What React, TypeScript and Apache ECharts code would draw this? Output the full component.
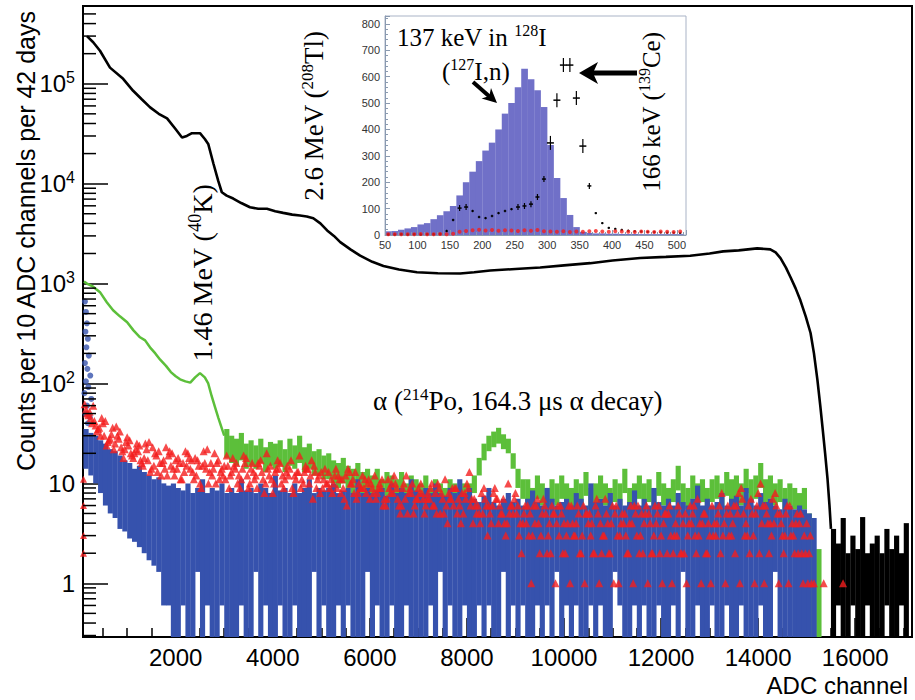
import React, { useEffect, useRef } from 'react';
import * as echarts from 'echarts';

const SANS = '"Liberation Sans", Arial, Helvetica, sans-serif';
const SERIF = '"Liberation Serif", "Times New Roman", Times, serif';

const X_MIN = 90;
const X_MAX = 17170;
const Y_MIN = 0.29;
const Y_MAX = 6e5;

// ---- main spectrum (black), read as [ADC channel, counts]
const blackLine: [number, number][] = [
  [172, 3.0e5], [300, 2.6e5], [440, 2.14e5], [646, 1.45e5], [917, 1.12e5], [1123, 8.5e4], [1300, 7.0e4],
  [1473, 5.8e4], [1650, 5.0e4], [1822, 4.5e4], [2000, 3.5e4], [2130, 2.9e4], [2230, 3.0e4], [2335, 3.2e4],
  [2500, 3.2e4], [2600, 2.8e4], [2670, 2.5e4], [2775, 1.6e4], [2875, 1.07e4], [2950, 8.2e3], [3050, 7.6e3],
  [3185, 7.1e3], [3350, 6.4e3], [3530, 5.8e3], [3700, 5.6e3], [3880, 5.6e3], [4050, 5.3e3], [4215, 5.1e3],
  [4400, 4.9e3], [4560, 4.8e3], [4700, 4.7e3], [4835, 4.5e3], [4980, 4.0e3], [5120, 3.4e3], [5260, 3.0e3],
  [5390, 2.6e3], [5600, 2.2e3], [5800, 1.9e3], [6050, 1.65e3], [6280, 1.5e3], [6600, 1.38e3], [6970, 1.3e3],
  [7400, 1.27e3], [7860, 1.26e3], [8150, 1.3e3], [8480, 1.35e3], [9000, 1.4e3], [9510, 1.45e3], [10000, 1.52e3],
  [10540, 1.6e3], [11000, 1.7e3], [11570, 1.8e3], [12100, 1.85e3], [12600, 1.9e3], [13000, 2.0e3], [13280, 2.1e3],
  [13600, 2.15e3], [13980, 2.25e3], [14250, 2.2e3], [14360, 2.05e3], [14460, 1.8e3], [14570, 1.45e3], [14670, 1.15e3],
  [14770, 900], [14870, 680], [14980, 470], [15080, 320], [15150, 200], [15220, 110], [15280, 60], [15330, 35],
  [15380, 20], [15430, 11], [15470, 6], [15500, 3.5],
];
// black tail, bins of 100 channels starting at 15500 (low/high ends of the error bars)
const blackTailHigh = [3.5, 2.5, 4.5, 2, 3, 2.2, 4.6, 2, 2.5, 3, 2, 3.5, 2.2, 3, 2, 4];
const blackTailLow = [0.29, 0.6, 0.29, 0.29, 0.6, 0.29, 0.29, 0.6, 0.29, 0.29, 0.29, 0.6, 0.29, 0.29, 0.6, 0.29];

// ---- green spectrum: smooth part, then bins of 100 channels from 3000
const greenLine: [number, number][] = [
  [110, 1050], [172, 1000], [300, 930], [440, 820], [580, 650], [710, 540], [850, 470], [1000, 410], [1130, 340],
  [1265, 290], [1370, 270], [1470, 230], [1580, 200], [1680, 173], [1800, 150], [1900, 130], [2000, 118],
  [2090, 110], [2200, 105], [2300, 102], [2400, 115], [2500, 127], [2600, 115], [2670, 100], [2740, 75],
  [2810, 58], [2880, 45], [2955, 35], [3000, 30],
];
const greenHigh = [
  35, 30, 28, 32, 25, 27, 24, 28, 23, 26,
  25, 27, 22, 28, 24, 30, 23, 25, 21, 22,
  19, 20, 17, 16, 18, 15, 14, 16, 13, 14,
  12, 14, 11, 13, 12, 11, 13, 10, 12, 11,
  10, 12, 9, 11, 10, 9, 11, 10, 9, 10,
  10, 12, 18, 25, 30, 33, 36, 31, 28, 20,
  14, 11, 11, 9, 12, 10, 9, 11, 10, 12,
  10, 9, 11, 10, 13, 9, 10, 12, 10, 9,
  11, 10, 14, 9, 10, 12, 10, 11, 9, 13,
  10, 9, 11, 15, 10, 9, 12, 10, 11, 9,
  11, 12, 10, 13, 11, 12, 10, 14, 11, 12,
  16, 11, 12, 10, 11, 9, 10, 9, 8, 9,
  5, 2.2, 2.2,
];
const greenLow = [
  18, 16, 15, 17, 14, 15, 14, 16, 13, 15,
  14, 15, 13, 15, 14, 16, 13, 14, 12, 12,
  11, 11, 10, 9, 10, 9, 8, 9, 8, 8,
  7, 8, 6.5, 7.5, 7, 6.5, 7.5, 6, 7, 6.5,
  6, 7, 5.5, 6.5, 6, 5.5, 6.5, 6, 5.5, 6,
  6, 8, 12, 17, 21, 23, 25, 22, 20, 14,
  9, 7, 6.5, 5.5, 7, 6, 5.5, 6.5, 6, 7,
  6, 5.5, 6.5, 6, 7.5, 5.5, 6, 7, 6, 5.5,
  6.5, 6, 8, 5.5, 6, 7, 6, 6.5, 5.5, 7.5,
  6, 5.5, 6.5, 8.5, 6, 5.5, 7, 6, 6.5, 5.5,
  6.5, 7, 6, 7.5, 6.5, 7, 6, 8, 6.5, 7,
  9, 6.5, 7, 6, 6.5, 5.5, 6, 5.5, 5, 5.5,
  0.29, 0.29, 0.29,
];

// ---- blue spectrum: bins of 100 channels from 100
const blueHigh = [
  35, 32, 30, 27, 25, 22, 21, 19, 17, 16,
  14, 15, 13, 12, 11, 11.5, 10, 9.5, 10, 9,
  8.5, 10, 8, 9, 11, 8, 9, 8.5, 10, 8,
  9, 8, 11, 8.5, 9, 8, 10, 9, 8, 12,
  8.5, 9, 8, 10, 8, 9, 11, 8, 9, 8.5,
  9, 10, 8, 8.5, 9, 8, 11, 8, 9, 8,
  8.5, 9, 7.5, 10, 8, 9, 8, 11, 8.5, 8,
  9, 8, 10, 8, 7.5, 9, 8, 11, 8, 9,
  7, 6.5, 7.5, 9, 6.5, 6, 7, 8, 6.5, 7,
  6, 7, 8.5, 6.5, 6, 9, 7, 6, 6.5, 7,
  6, 8, 7, 6, 10, 6.5, 7, 6, 8, 6,
  7, 6, 6.5, 8.5, 6, 7, 6, 9, 6.5, 6,
  7, 6, 8, 6.5, 6, 7, 9.5, 6, 7, 6,
  6.5, 8, 6, 7, 7.5, 6, 9, 7, 6, 8,
  6.5, 7, 6, 5.5, 7, 6, 5.5, 6, 5.5, 5, 4.5,
];
const blueLow = [
  14, 12, 10, 8, 6, 5, 4.5, 3.5, 3.3, 2.8,
  2.6, 2.3, 2, 1.7, 1.5, 1.3, 0.6, 0.6, 0.29, 0.29,
  0.6, 0.29, 0.29, 1.3, 0.29, 0.6, 0.29, 0.29, 0.6, 0.29,
  0.29, 0.29, 0.6, 0.29, 0.29, 1.3, 0.29, 0.6, 0.29, 0.29,
  0.6, 0.29, 0.29, 0.6, 0.29, 0.29, 0.29, 1.3, 0.29, 0.6,
  0.29, 0.29, 0.6, 0.29, 0.6, 0.29, 0.29, 0.29, 1.3, 0.29,
  0.6, 0.29, 0.29, 0.6, 0.29, 0.29, 0.6, 0.29, 0.29, 0.29,
  0.29, 0.6, 0.29, 1.3, 0.29, 0.6, 0.29, 0.29, 0.6, 0.29,
  0.29, 0.6, 0.29, 0.6, 0.29, 0.29, 1.3, 0.29, 0.6, 0.29,
  0.6, 0.29, 0.29, 0.6, 0.29, 0.6, 0.29, 1.3, 0.29, 0.6,
  0.29, 0.6, 0.29, 0.29, 0.6, 0.29, 0.6, 0.29, 0.29, 1.3,
  0.6, 0.29, 0.29, 0.6, 0.29, 0.6, 0.29, 0.29, 0.6, 0.29,
  0.29, 0.6, 0.29, 1.3, 0.29, 0.29, 0.6, 0.29, 0.29, 0.6,
  0.29, 0.29, 0.6, 0.29, 0.29, 0.6, 0.29, 0.29, 0.29, 0.6,
  0.29, 0.29, 1.3, 0.29, 0.29, 0.29, 0.29, 0.29, 0.29, 0.29, 0.29,
];
const blueDots: [number, number][] = [
  [130, 660], [150, 520], [170, 400], [140, 330], [190, 280], [160, 230], [210, 190], [130, 160], [180, 140],
  [240, 120], [150, 105], [200, 92], [120, 80], [260, 70], [170, 60], [140, 50], [230, 46], [190, 40],
];

// ---- red points: four interleaved series at channels 125/150/175/200 + 100i
const redA: (number | null)[] = [
  55, 45, 38, 30, 42, 28, 25, 33, 22, 27,
  20, 24, 18, 26, 15, 21, 17, 19, 14, 18,
  16, 20, 13, 17, 15, 22, 12, 16, 14, 19,
  13, 16, 11, 18, 14, 12, 17, 10, 15, 13,
  16, 11, 14, 12, 19, 13, 10, 15, 12, 11,
  13, 10, 12, 9, 14, 11, 8, 12, 10, 9,
  8, 11, 7, 10, 9, 6, 12, 8, 7, 10,
  6, 9, 8, 5, 11, 7, 9, 6, 8, 13,
  7, 5, 9, 6, 8, 4, 7, 10, 5, 6,
  4, 6, 3, 7, 5, 2, 6, 4, 5, 3,
  6, 4, 2, 5, 3, 6, 4, 7, 2, 5,
  3, 5, 4, 6, 2, 4, 5, 3, 6, 4,
  5, 2, 6, 4, 3, 5, 7, 4, 2, 6,
  4, 8, 5, 3, 6, 9, 4, 7, 5, 10,
  6, 4, 8, 5, 3, 6, 2, 4, 3, 2,
  1, null, 1, null, null, null, 1,
];
const redB: number[] = [
  48, 60, 35, 40, 26, 36, 30, 21, 29, 19,
  25, 16, 22, 14, 19, 12, 23, 15, 17, 11,
  21, 14, 18, 10, 16, 13, 20, 11, 15, 9,
  15, 12, 19, 9, 13, 16, 11, 14, 8, 17,
  12, 15, 9, 13, 11, 14, 17, 9, 13, 10,
  11, 14, 8, 12, 10, 13, 9, 11, 7, 12,
  10, 7, 9, 12, 6, 10, 8, 5, 9, 7,
  8, 6, 10, 7, 4, 9, 5, 8, 10, 7,
  5, 8, 6, 4, 7, 5, 3, 6, 8, 4,
  6, 5, 4, 2, 6, 4, 5, 3, 4, 6,
  3, 5, 6, 4, 2, 5, 3, 4, 6, 3,
  5, 2, 4, 3, 5, 6, 2, 4, 3, 5,
  3, 4, 2, 5, 6, 3, 4, 5, 3, 4,
  6, 4, 3, 6, 8, 5, 6, 3, 8, 6,
  4, 7, 5, 3, 6, 4, 5, 2, 4, 1,
];
const redC: number[] = [
  50, 40, 33, 45, 24, 31, 37, 23, 26, 20,
  22, 17, 25, 13, 20, 16, 14, 21, 12, 16,
  13, 18, 11, 15, 21, 10, 14, 17, 12, 15,
  18, 10, 14, 12, 16, 9, 13, 20, 11, 14,
  10, 13, 17, 11, 9, 15, 12, 13, 8, 14,
  9, 12, 11, 7, 13, 8, 10, 9, 11, 8,
  9, 6, 11, 8, 7, 9, 5, 10, 7, 8,
  7, 10, 5, 8, 6, 7, 9, 4, 7, 6,
  6, 4, 7, 5, 9, 6, 4, 5, 7, 3,
  5, 3, 6, 4, 7, 3, 5, 6, 2, 4,
  4, 6, 3, 5, 4, 7, 2, 5, 4, 6,
  4, 3, 6, 5, 3, 5, 4, 6, 2, 5,
  6, 3, 5, 2, 4, 6, 3, 5, 4, 3,
  5, 3, 6, 4, 5, 7, 3, 5, 6, 4,
  5, 3, 6, 4, 5, 3, 4, 5, 2, 3,
];
const redD: number[] = [
  62, 52, 42, 36, 30, 27, 22, 28, 18, 24,
  18, 21, 15, 17, 23, 13, 16, 12, 20, 14,
  11, 15, 17, 12, 9, 14, 16, 10, 13, 11,
  12, 14, 9, 16, 10, 11, 15, 8, 12, 10,
  14, 9, 12, 8, 13, 10, 14, 7, 11, 9,
  10, 8, 9, 11, 6, 10, 7, 9, 8, 10,
  7, 9, 6, 8, 10, 5, 7, 9, 6, 8,
  5, 7, 6, 9, 5, 8, 6, 7, 5, 9,
  4, 6, 5, 3, 6, 7, 5, 4, 6, 5,
  2, 4, 1, 6, 3, 5, 2, 1, 6, 2,
  1, 3, 2, 1, 5, 2, 1, 3, 2, 1,
  1, 4, 2, 1, 6, 2, 1, 2, 5, 1,
  2, 1, 3, 2, 1, 4, 2, 1, 2, 1,
  3, 2, 1, 5, 2, 1, 3, 2, 1, 2,
  1, 2, 4, 1, 2, 1, 3, 2, 1, 1,
];
const redEdge: [number, number][] = [[100, 11], [100, 6], [100, 3], [100, 2]];

// ---- inset: bins of 10 from 50 to 510
const insetHist = [
  14, 15, 20, 25, 30, 40, 45, 60, 75, 90,
  110, 150, 200, 240, 280, 320, 350, 400, 460, 500,
  560, 630, 590, 549, 485, 341, 216, 140, 76, 30,
  12, 8, 6, 6, 5, 5, 4, 4, 4, 3,
  3, 3, 3, 3, 3, 3,
];
const insetBlack = [
  2, 2, 3, 2, 3, 2, 3, 3, 4, 15,
  57, 102, 106, 91, 68, 64, 72, 83, 91, 98,
  106, 110, 117, 144, 212, 349, 511, 644, 644, 519,
  337, 186, 83, 45, 27, 23, 19, 16, 14, 13,
  12, 11, 10, 9, 9, 8,
];
const insetRed = [
  3, 3, 3, 3, 3, 4, 3, 3, 4, 3,
  5, 12, 15, 18, 20, 17, 19, 16, 18, 17,
  15, 18, 16, 19, 14, 13, 12, 14, 11, 13,
  12, 14, 15, 13, 12, 14, 13, 12, 11, 13,
  12, 11, 13, 12, 11, 13,
];

const yMantissas = [2, 3, 4, 5, 6, 7, 8, 9];
const yDecades = [0.1, 1, 10, 100, 1000, 10000, 100000];

const BLACK = '#000000';
const GREEN = '#5cbf3a';
const BLUE = '#3652ad';
const RED = '#f41e1e';
const INSET_FILL = '#7070c8';

function bandSeries(data: number[][], color: string, half: number) {
  return {
    type: 'custom',
    clip: true,
    xAxisIndex: 0,
    yAxisIndex: 0,
    encode: { x: 0, y: [1, 2] },
    data,
    renderItem: (_p: any, api: any) => {
      const x = api.value(0);
      const lo = api.value(1);
      const hi = api.value(2);
      const a = api.coord([x - half, hi]);
      const b = api.coord([x + half, lo]);
      return {
        type: 'rect',
        shape: { x: a[0], y: a[1], width: b[0] - a[0] + 0.3, height: b[1] - a[1] },
        style: { fill: color },
      };
    },
  };
}

function redSeries(data: any[], size: number) {
  return {
    type: 'scatter', xAxisIndex: 0, yAxisIndex: 0, data, symbol: 'triangle', symbolSize: size,
    itemStyle: { color: RED }, z: 3,
  };
}

export default function App() {
  const ref = useRef<HTMLDivElement>(null);
  useEffect(() => {
    if (!ref.current) return;
    const chart = echarts.init(ref.current, undefined, { renderer: 'svg' });

    const blueData = blueHigh.map((h, i) => [150 + 100 * i, blueLow[i], h]);
    const greenData = greenHigh.map((h, i) => [3050 + 100 * i, greenLow[i], h]);
    const blackTailData = blackTailHigh.map((h, i) => [15550 + 100 * i, blackTailLow[i], h]);
    const redAData = redA.map((v, i) => [150 + 100 * i, v]).filter((d) => d[1] !== null);
    const redBData = redB.map((v, i) => [200 + 100 * i, v]);
    const redCData = redC.map((v, i) => [175 + 100 * i, v]);
    const redDData = redD.map((v, i) => [125 + 100 * i, v]);
    const minorTicks: number[] = [];
    yDecades.forEach((d) => yMantissas.forEach((m) => {
      const v = d * m;
      if (v > Y_MIN && v < Y_MAX) minorTicks.push(v);
    }));

    const yLabelFmt = (v: number) => {
      const l = Math.log10(v);
      const e = Math.round(l);
      if (Math.abs(l - e) > 1e-6) return '';
      if (e === 0) return '{b|1}';
      if (e === 1) return '{b|10}';
      return `{b|10}{s|${e}}`;
    };

    const supRich = (base: number) => ({
      s: { fontSize: Math.round(base * 0.64), fontFamily: SERIF, fill: '#000', padding: [0, 0, Math.round(base * 0.5), 0] },
    });

    const option: any = {
      animation: false,
      backgroundColor: '#ffffff',
      grid: [
        { left: 83, top: 6, width: 829, height: 631, show: true, borderColor: '#000', borderWidth: 2, backgroundColor: 'transparent', outerBoundsMode: 'none' },
        { left: 385, top: 16, width: 301, height: 219, show: true, borderColor: '#a9b3c6', borderWidth: 1, backgroundColor: '#ffffff', outerBoundsMode: 'none', z: 5 },
      ],
      xAxis: [
        {
          type: 'value', gridIndex: 0, min: X_MIN, max: X_MAX, splitNumber: 8,
          axisLine: { show: true, lineStyle: { color: '#000', width: 2 } },
          axisTick: { show: true, inside: true, length: 19, lineStyle: { color: '#000', width: 1.5 } },
          minorTick: { show: true, splitNumber: 4, length: 9, lineStyle: { color: '#000', width: 1.5 } },
          axisLabel: { showMinLabel: false, showMaxLabel: false, fontSize: 24, fontFamily: SANS, color: '#000', margin: 8, formatter: (v: number) => String(v) },
          splitLine: { show: false },
        },
        {
          type: 'value', gridIndex: 1, min: 50, max: 514, interval: 50, z: 6,
          axisLine: { show: true, lineStyle: { color: '#8a9ab0', width: 1 } },
          axisTick: { show: true, inside: true, length: 5, lineStyle: { color: '#8a9ab0' } },
          minorTick: { show: true, splitNumber: 5, length: 3, lineStyle: { color: '#8a9ab0' } },
          axisLabel: { showMaxLabel: false, fontSize: 11, fontFamily: SANS, color: '#333', margin: 4 },
          splitLine: { show: false },
        },
      ],
      yAxis: [
        {
          type: 'log', logBase: 10, gridIndex: 0, min: Y_MIN, max: Y_MAX,
          axisLine: { show: true, lineStyle: { color: '#000', width: 2 } },
          axisTick: { show: true, inside: true, length: 25, lineStyle: { color: '#000', width: 1.5 } },
          axisLabel: {
            showMinLabel: false, showMaxLabel: false, margin: 8, formatter: yLabelFmt,
            rich: {
              b: { fontSize: 24, fontFamily: SANS, color: '#000' },
              s: { fontSize: 16, fontFamily: SANS, color: '#000', padding: [0, 0, 12, 0] },
            },
          },
          splitLine: { show: false },
        },
        {
          type: 'value', gridIndex: 1, min: 0, max: 830, interval: 100, z: 6,
          axisLine: { show: true, lineStyle: { color: '#8a9ab0', width: 1 } },
          axisTick: { show: true, inside: true, length: 5, lineStyle: { color: '#8a9ab0' } },
          minorTick: { show: true, splitNumber: 5, length: 3, lineStyle: { color: '#8a9ab0' } },
          axisLabel: { showMaxLabel: false, fontSize: 11, fontFamily: SANS, color: '#333', margin: 5 },
          splitLine: { show: false },
        },
      ],
      series: [
        {
          type: 'line', xAxisIndex: 0, yAxisIndex: 0, data: blackLine, showSymbol: false, symbol: 'none',
          lineStyle: { color: BLACK, width: 2.6 }, z: 2,
        },
        { ...bandSeries(blackTailData, BLACK, 50), z: 2 },
        {
          type: 'line', xAxisIndex: 0, yAxisIndex: 0, data: greenLine, showSymbol: false, symbol: 'none',
          lineStyle: { color: GREEN, width: 2.5 }, z: 2,
        },
        { ...bandSeries(greenData, GREEN, 50), z: 2 },
        { ...bandSeries(blueData, BLUE, 50), z: 2 },
        {
          type: 'scatter', xAxisIndex: 0, yAxisIndex: 0, data: blueDots, symbol: 'circle', symbolSize: 6,
          itemStyle: { color: BLUE }, z: 2,
        },
        redSeries(redAData, 8),
        redSeries(redBData, 8),
        redSeries(redCData, 8),
        redSeries(redDData, 8),
        redSeries(redEdge, 7),
        {
          type: 'custom', xAxisIndex: 0, yAxisIndex: 0, z: 4,
          data: minorTicks.map((v) => [X_MIN, v]),
          renderItem: (_p: any, api: any) => {
            const p = api.coord([api.value(0), api.value(1)]);
            return { type: 'line', shape: { x1: p[0], y1: p[1], x2: p[0] + 13, y2: p[1] }, style: { stroke: '#000', lineWidth: 1.5 } };
          },
        },
        // inset
        {
          type: 'custom', xAxisIndex: 1, yAxisIndex: 1, z: 6, clip: true,
          data: insetHist.map((v, i) => [50 + 10 * i, v]),
          renderItem: (_p: any, api: any) => {
            const x0 = api.value(0);
            const a = api.coord([x0, api.value(1)]);
            const b = api.coord([x0 + 10, 0]);
            return { type: 'rect', shape: { x: a[0], y: a[1], width: b[0] - a[0] + 0.2, height: b[1] - a[1] }, style: { fill: INSET_FILL } };
          },
        },
        {
          type: 'scatter', xAxisIndex: 1, yAxisIndex: 1, z: 7,
          data: insetRed.map((v, i) => [55 + 10 * i, v]), symbol: 'circle', symbolSize: 4,
          itemStyle: { color: RED },
        },
        {
          type: 'custom', xAxisIndex: 1, yAxisIndex: 1, z: 7,
          data: insetBlack.map((v, i) => [55 + 10 * i, v]),
          renderItem: (_p: any, api: any) => {
            const v = api.value(1);
            const c = api.coord([api.value(0), v]);
            const half = v > 300 ? 3.5 : v > 100 ? 2 : 1.2;
            const err = v > 300 ? 7 : v > 100 ? 3 : 1.2;
            return {
              type: 'group',
              children: [
                { type: 'line', shape: { x1: c[0] - half, y1: c[1], x2: c[0] + half, y2: c[1] }, style: { stroke: '#000', lineWidth: 1.5 } },
                { type: 'line', shape: { x1: c[0], y1: c[1] - err, x2: c[0], y2: c[1] + err }, style: { stroke: '#000', lineWidth: 1.2 } },
              ],
            };
          },
        },
      ],
      graphic: [
        {
          type: 'text', x: 26, y: 241, rotation: Math.PI / 2, z: 100,
          style: { text: 'Counts per 10 ADC channels per 42 days', fontSize: 25, fontFamily: SANS, fill: '#000', align: 'center', verticalAlign: 'middle' },
        },
        {
          type: 'text', x: 908, y: 685, z: 100,
          style: { text: 'ADC channel', fontSize: 24, fontFamily: SANS, fill: '#000', align: 'right', verticalAlign: 'middle' },
        },
        {
          type: 'text', x: 202, y: 273, rotation: Math.PI / 2, z: 100,
          style: { text: '1.46 MeV ({s|40}K)', fontSize: 28, fontFamily: SERIF, fill: '#000', align: 'center', verticalAlign: 'middle', rich: supRich(28) },
        },
        {
          type: 'text', x: 314, y: 116, rotation: Math.PI / 2, z: 100,
          style: { text: '2.6 MeV ({s|208}Tl)', fontSize: 27, fontFamily: SERIF, fill: '#000', align: 'center', verticalAlign: 'middle', rich: supRich(27) },
        },
        {
          type: 'text', x: 373, y: 401, z: 100,
          style: { text: 'α ({s|214}Po, 164.3 μs α decay)', fontSize: 27, fontFamily: SERIF, fill: '#000', align: 'left', verticalAlign: 'middle', rich: supRich(27) },
        },
        {
          type: 'text', x: 397, y: 37, z: 100,
          style: { text: '137 keV in {s|128}I', fontSize: 25, fontFamily: SERIF, fill: '#000', align: 'left', verticalAlign: 'middle', rich: supRich(25) },
        },
        {
          type: 'text', x: 442, y: 71, z: 100,
          style: { text: '({s|127}I,n)', fontSize: 25, fontFamily: SERIF, fill: '#000', align: 'left', verticalAlign: 'middle', rich: supRich(25) },
        },
        {
          type: 'text', x: 651, y: 112, rotation: Math.PI / 2, z: 100,
          style: { text: '166 keV ({s|139}Ce)', fontSize: 25, fontFamily: SERIF, fill: '#000', align: 'center', verticalAlign: 'middle', rich: supRich(25) },
        },
        { type: 'line', z: 100, shape: { x1: 637, y1: 73, x2: 590, y2: 73 }, style: { stroke: '#000', lineWidth: 5 } },
        { type: 'polygon', z: 100, shape: { points: [[579, 73], [598, 62], [593, 73], [598, 84]] }, style: { fill: '#000' } },
        { type: 'line', z: 100, shape: { x1: 473, y1: 82, x2: 490, y2: 97 }, style: { stroke: '#000', lineWidth: 4 } },
        { type: 'polygon', z: 100, shape: { points: [[497, 103], [481.6, 98.5], [489.3, 96.0], [491.0, 88.1]] }, style: { fill: '#000' } },
      ],
    };
    chart.setOption(option);
    return () => chart.dispose();
  }, []);
  return <div ref={ref} style={{ position: 'fixed', left: 0, top: 0, width: 915, height: 700, background: '#fff' }} />;
}
